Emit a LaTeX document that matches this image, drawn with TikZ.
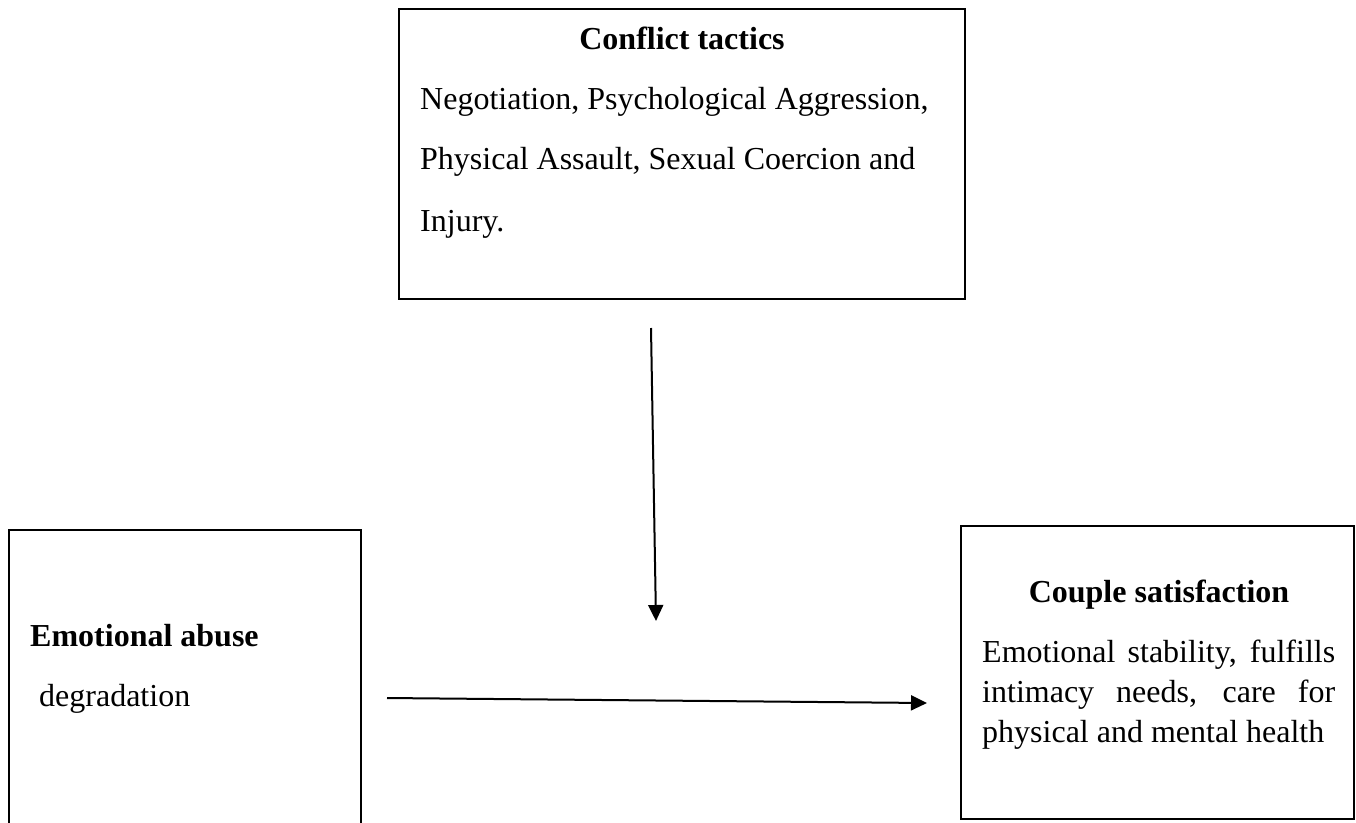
\documentclass[tikz,border=0pt]{standalone}
\usepackage{fontspec}
\setmainfont{Liberation Serif}
\usetikzlibrary{arrows.meta}
\begin{document}
\begin{tikzpicture}[x=1pt,y=-1pt,
  boxstyle/.style={draw=black, line width=2pt, inner sep=0pt, outer sep=0pt, anchor=north west},
  txt/.style={inner sep=0pt, anchor=base west, font=\fontsize{32}{38}\selectfont},
  ttl/.style={inner sep=0pt, anchor=base, font=\fontsize{32}{38}\selectfont\bfseries},
  conn/.style={line width=2pt, -{Triangle[length=16pt,width=15pt]}}]
\useasboundingbox (0,0) rectangle (1356,822);
\clip (0,0) rectangle (1356,822);
% boxes
\node[boxstyle, minimum width=566pt, minimum height=290pt] (ct) at (399,9) {};
\node[boxstyle, minimum width=352pt, minimum height=330pt] (ea) at (9,530) {};
\node[boxstyle, minimum width=393pt, minimum height=293pt] (cs) at (961,526) {};
% top box texts
\node[ttl] (ctt) at (682,49) {Conflict tactics};
\node[txt] (ct1) at (420,109) {Negotiation, Psychological Aggression,};
\node[txt] (ct2) at (420,169) {Physical Assault, Sexual Coercion and};
\node[txt] (ct3) at (420,231) {Injury.};
% left box texts
\node[ttl, anchor=base west] (eat) at (30,646) {Emotional abuse};
\node[txt] (ead) at (39,706) {degradation};
% right box texts
\node[ttl] (cst) at (1159,602) {Couple satisfaction};
\node[txt] (cs1) at (982,662) {\hbox to 353pt{Emotional stability, fulfills}};
\node[txt] (cs2) at (982,702) {\hbox to 353pt{intimacy needs, care for}};
\node[txt] (cs3) at (982,742) {physical and mental health};
% arrows
\coordinate (vs) at (651,328);
\coordinate (ve) at (656,621);
\draw[conn] (vs) -- (ve);
\coordinate (hs) at (387,698);
\coordinate (he) at (927,703);
\draw[conn] (hs) -- (he);
\end{tikzpicture}
\end{document}
